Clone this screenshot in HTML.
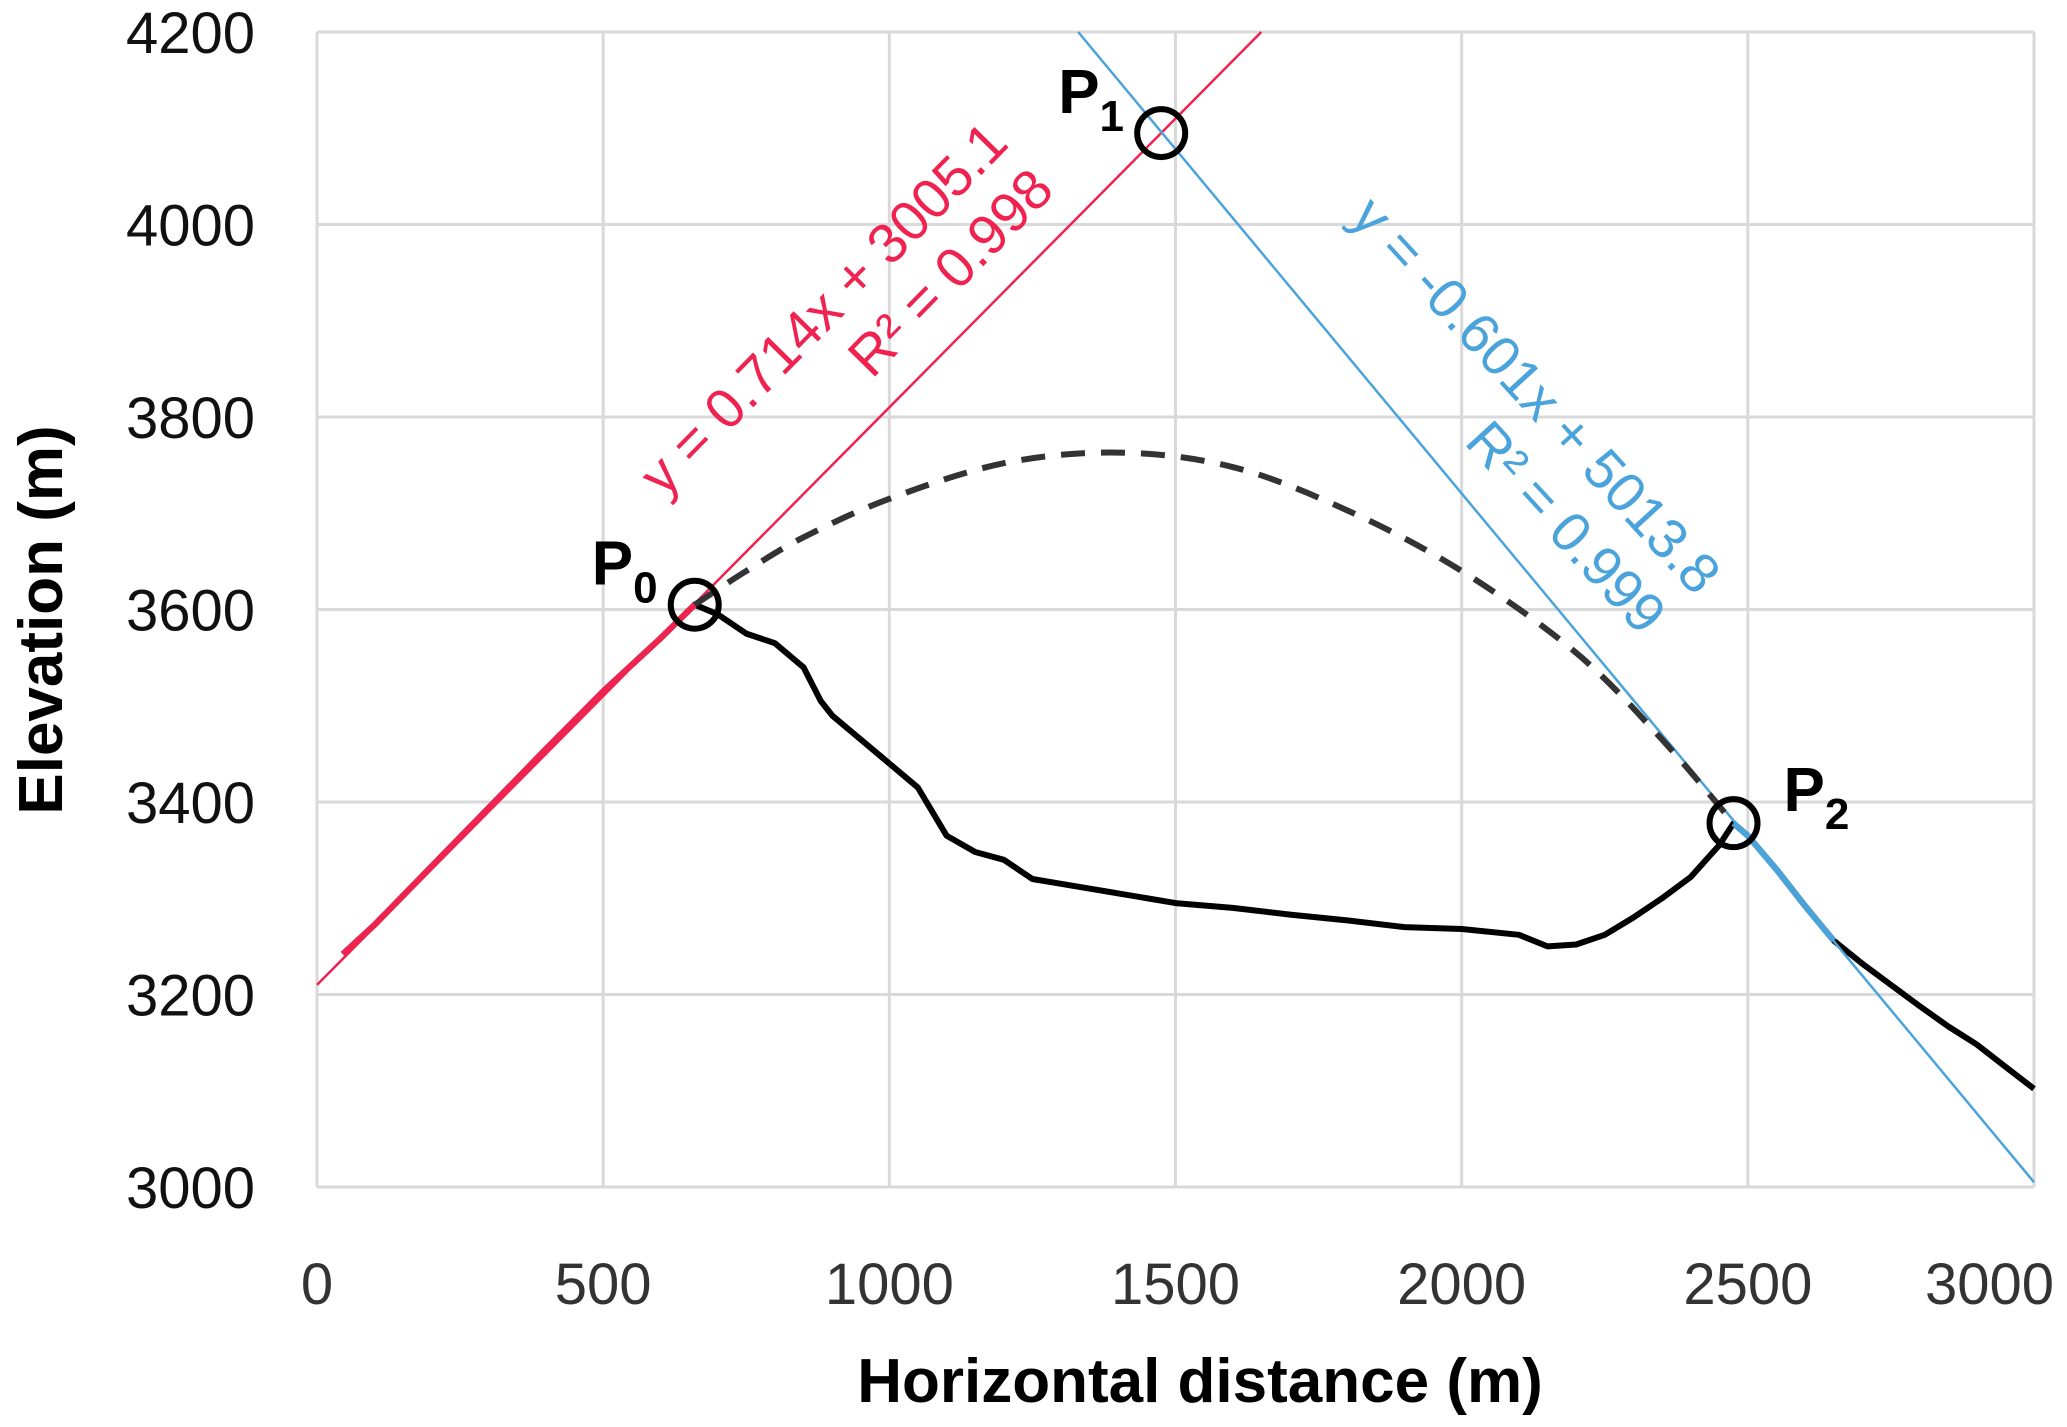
<!DOCTYPE html>
<html><head><meta charset="utf-8"><style>
html,body{margin:0;padding:0;background:#fff;}
svg{display:block;font-family:"Liberation Sans",sans-serif;}
</style></head><body>
<svg id="chart" width="2067" height="1427" viewBox="0 0 2067 1427">
<g id="grid"></g>
<g id="ticks"></g>
<g id="series"></g>
<text x="1200" y="1402" text-anchor="middle" font-size="62" font-weight="bold">Horizontal distance (m)</text>
<text transform="translate(62,620) rotate(-90)" text-anchor="middle" font-size="62" font-weight="bold">Elevation (m)</text>
<text transform="translate(837,322) rotate(-45.5)" text-anchor="middle" font-size="56" fill="#f0224f">y = 0.714x + 3005.1</text>
<text transform="translate(964,286) rotate(-45.5)" text-anchor="middle" font-size="56" fill="#f0224f">R² = 0.998</text>
<text transform="translate(1522,408) rotate(47.5)" text-anchor="middle" font-size="56" fill="#4aa3db">y = -0.601x + 5013.8</text>
<text transform="translate(1552,540) rotate(47.5)" text-anchor="middle" font-size="56" fill="#4aa3db">R² = 0.999</text>
<g id="labels"></g>
</svg>
<script>
const xTicks=[0,500,1000,1500,2000,2500,3000];
const yTicks=[3000,3200,3400,3600,3800,4000,4200];
const profileX=[45,100,200,300,400,500,600,660,700,750,800,850,880,900,950,1000,1050,1100,1150,1200,1250,1300,1400,1500,1600,1700,1800,1900,2000,2100,2150,2200,2250,2300,2350,2400,2450,2475,2500,2550,2600,2650,2700,2750,2800,2850,2900,2950,3000];
const profileY=[3242,3272,3333,3394,3455,3515,3570,3605,3595,3575,3565,3540,3505,3490,3465,3440,3415,3365,3348,3340,3320,3315,3305,3295,3290,3283,3277,3270,3268,3262,3250,3252,3262,3280,3300,3322,3355,3378,3365,3330,3292,3256,3232,3210,3188,3167,3148,3125,3102];
const dashX=[660,750,850,1000,1200,1400,1600,1800,2000,2200,2350,2475];
const dashY=[3605,3640,3675,3715,3752,3763,3748,3703,3640,3555,3465,3378];
const redLineX=[0,1650];const redLineY=[3210,4200];
const blueLineX=[1330,3000];const blueLineY=[4200,3005];
const redSpan=[45,660];const blueSpan=[2475,2650];
const ptNames=["0","1","2"];const ptX=[660,1475,2475];const ptY=[3605,4095,3378];
const X0=317,X1=2034,Y0=1187,Y1=32;
const sx=v=>X0+(v-0)/3000*(X1-X0);
const sy=v=>Y0-(v-3000)/1200*(Y0-Y1);
const NS="http://www.w3.org/2000/svg";
function mk(tag,attrs,parent){const e=document.createElementNS(NS,tag);for(const k in attrs)e.setAttribute(k,attrs[k]);parent.appendChild(e);return e;}
const grid=document.getElementById('grid'),ticks=document.getElementById('ticks'),series=document.getElementById('series'),labels=document.getElementById('labels');
xTicks.forEach((t,i)=>{const l=mk('line',{x1:sx(t),x2:sx(t),y1:Y1,y2:Y0,stroke:'#d9d9d9','stroke-width':3},grid);


const last=i===xTicks.length-1;
const tx=mk('text',{x:last?2054:sx(t),y:1304,'text-anchor':last?'end':'middle','font-size':58,fill:'#333'},ticks);tx.textContent=t;

});
yTicks.forEach(t=>{const l=mk('line',{x1:X0,x2:X1,y1:sy(t),y2:sy(t),stroke:'#d9d9d9','stroke-width':3},grid);


const tx=mk('text',{x:255,y:sy(t)+21,'text-anchor':'end','font-size':58,fill:'#111'},ticks);tx.textContent=t;

});
const pts=(xs,ys)=>xs.map((x,i)=>sx(x).toFixed(1)+','+sy(ys[i]).toFixed(1)).join(' ');
function smooth(xs,ys){const p=xs.map((x,i)=>[sx(x),sy(ys[i])]);let d='M'+p[0][0]+','+p[0][1];
for(let i=0;i<p.length-1;i++){const a=p[Math.max(0,i-1)],b=p[i],c=p[i+1],e=p[Math.min(p.length-1,i+2)];
d+=' C'+(b[0]+(c[0]-a[0])/6)+','+(b[1]+(c[1]-a[1])/6)+' '+(c[0]-(e[0]-b[0])/6)+','+(c[1]-(e[1]-b[1])/6)+' '+c[0]+','+c[1];}return d;}
const prof=mk('polyline',{points:pts(profileX,profileY),fill:'none',stroke:'#000','stroke-width':6,'stroke-linejoin':'round'},series);


function sub(xs,ys,a,b){const rx=[],ry=[];xs.forEach((x,i)=>{if(x>=a&&x<=b){rx.push(x);ry.push(ys[i]);}});return [rx,ry];}
const rs=sub(profileX,profileY,redSpan[0],redSpan[1]);
const rp=mk('polyline',{points:pts(rs[0],rs[1]),fill:'none',stroke:'#f0224f','stroke-width':6},series);


const bs=sub(profileX,profileY,blueSpan[0],blueSpan[1]);
const bp=mk('polyline',{points:pts(bs[0],bs[1]),fill:'none',stroke:'#4aa3db','stroke-width':6},series);


const rl=mk('polyline',{points:pts(redLineX,redLineY),fill:'none',stroke:'#f0224f','stroke-width':2.5},series);


const bl=mk('polyline',{points:pts(blueLineX,blueLineY),fill:'none',stroke:'#4aa3db','stroke-width':2.5},series);


const dp=mk('path',{d:smooth(dashX,dashY),fill:'none',stroke:'#333','stroke-width':6,'stroke-dasharray':'24 16'},series);


ptNames.forEach((n,i)=>{const c=mk('circle',{cx:sx(ptX[i]),cy:sy(ptY[i]),r:24,fill:'none',stroke:'#000','stroke-width':6},series);


const off=i===2?[50,-12]:[-103,-20];
const t=mk('text',{x:sx(ptX[i])+off[0],y:sy(ptY[i])+off[1],'font-size':62,'font-weight':'bold'},labels);


t.textContent='P';const ts=mk('tspan',{dy:18,'font-size':44},t);ts.textContent=n;});
</script>
</body></html>
